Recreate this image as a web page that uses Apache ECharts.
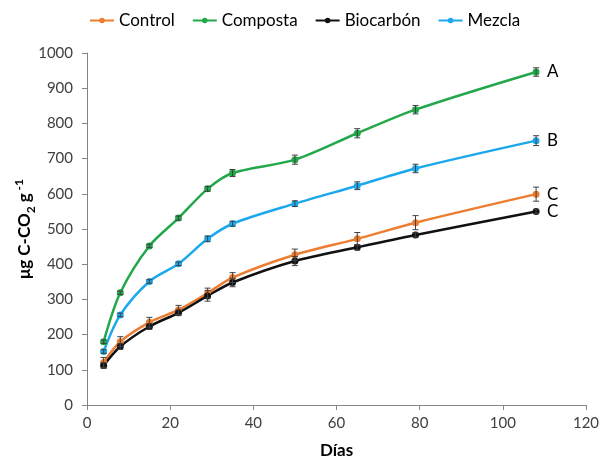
<!DOCTYPE html>
<html>
<head>
<meta charset="utf-8">
<script src="https://cdn.jsdelivr.net/npm/echarts@6/dist/echarts.min.js"></script>
<style>
  html, body { margin: 0; padding: 0; background: #fff; }
  #chart { width: 600px; height: 462px; }
</style>
</head>
<body>
<div id="chart"></div>
<script>
  // sampling days
  var dias = [4, 8, 15, 22, 29, 35, 50, 65, 79, 108];

  var control = [121, 180, 235, 270, 318, 362, 427, 472, 518, 599];
  var composta = [180, 319, 452, 531, 614, 659, 697, 772, 839, 946];
  var biocarbon = [112, 166, 223, 262, 310, 348, 409, 448, 483, 550];
  var mezcla = [152, 256, 351, 401, 472, 515, 572, 623, 672, 751];

  // standard errors (approx.)
  var errControl = [14, 14, 14, 13, 14, 14, 16, 18, 20, 20];
  var errComposta = [5, 5, 5, 6, 7, 10, 13, 13, 12, 12];
  var errBiocarbon = [8, 8, 8, 8, 15, 12, 13, 8, 6, 6];
  var errMezcla = [5, 5, 5, 5, 8, 7, 8, 11, 12, 14];

  var nombres = ["Control", "Composta", "Biocarbón", "Mezcla"];
  var letras = ["C", "A", "C", "B"];
  var colores = ["#ED7D31", "#22A84A", "#111111", "#1BA8EC"];

  var xTicks = {min: 0, max: 120, interval: 20};
  var yTicks = {min: 0, max: 1000, interval: 100};

  var valores = [control, composta, biocarbon, mezcla];
  var errores = [errControl, errComposta, errBiocarbon, errMezcla];

  var chart = echarts.init(document.getElementById("chart"));

  function pares(vals) {
    return dias.map(function (d, i) { return [d, vals[i]]; });
  }

  function barrasError(vals, errs) {
    return dias.map(function (d, i) { return [d, vals[i] - errs[i], vals[i] + errs[i]]; });
  }

  function renderError(params, api) {
    var x = api.value(0);
    var lo = api.coord([x, api.value(1)]);
    var hi = api.coord([x, api.value(2)]);
    var w = 3;
    var st = {stroke: "#404040", lineWidth: 1};
    return {
      type: "group",
      children: [
        {type: "line", shape: {x1: lo[0], y1: lo[1], x2: hi[0], y2: hi[1]}, style: st},
        {type: "line", shape: {x1: lo[0] - w, y1: lo[1], x2: lo[0] + w, y2: lo[1]}, style: st},
        {type: "line", shape: {x1: hi[0] - w, y1: hi[1], x2: hi[0] + w, y2: hi[1]}, style: st}
      ]
    };
  }

  var series = [];
  nombres.forEach(function (n, k) {
    series.push({
      name: n,
      type: "line",
      data: pares(valores[k]),
      smooth: 0.3,
      symbol: "circle",
      symbolSize: 7,
      color: colores[k],
      lineStyle: {width: 2.5, color: colores[k]},
      itemStyle: {color: colores[k]},
      endLabel: {
        show: true,
        formatter: letras[k],
        color: "#000",
        fontSize: 17,
        fontFamily: "Lato",
        distance: 11
      },
      z: 3
    });
  });
  nombres.forEach(function (n, k) {
    series.push({
      type: "custom",
      renderItem: renderError,
      data: barrasError(valores[k], errores[k]),
      encode: {x: 0, y: [1, 2]},
      silent: true,
      z: 4
    });
  });

  chart.setOption({
    animation: false,
    textStyle: {fontFamily: "Lato"},
    grid: {left: 87, right: 14, top: 53, bottom: 57, outerBoundsMode: "none"},
    legend: {
      data: nombres,
      left: 84,
      top: 7,
      itemWidth: 24,
      itemHeight: 7,
      itemGap: 17,
      textStyle: {fontSize: 17, color: "#000", fontFamily: "Lato"}
    },
    xAxis: {
      type: "value",
      min: xTicks.min,
      max: xTicks.max,
      interval: xTicks.interval,
      name: "Días",
      nameLocation: "middle",
      nameGap: 37,
      nameTextStyle: {fontSize: 17, fontWeight: "bold", color: "#000"},
      splitLine: {show: false},
      axisLine: {lineStyle: {color: "#868686"}},
      axisTick: {show: true, length: 5, lineStyle: {color: "#868686"}},
      axisLabel: {fontSize: 15, color: "#404040", margin: 11}
    },
    yAxis: {
      type: "value",
      min: yTicks.min,
      max: yTicks.max,
      interval: yTicks.interval,
      name: "{b|μg C-CO}{sub|2}{b| g}{sup| -1}",
      nameLocation: "middle",
      nameRotate: 90,
      nameGap: 50,
      nameMoveOverlap: false,
      nameTextStyle: {
        rich: {
          b: {fontSize: 17, fontWeight: "bold", color: "#000", lineHeight: 24, fontFamily: "Lato"},
          sub: {fontSize: 12, fontWeight: "bold", color: "#000", lineHeight: 24, verticalAlign: "bottom", fontFamily: "Lato"},
          sup: {fontSize: 12, fontWeight: "bold", color: "#000", lineHeight: 24, verticalAlign: "top", fontFamily: "Lato"}
        }
      },
      splitLine: {show: false},
      axisLine: {show: true, lineStyle: {color: "#868686"}},
      axisTick: {show: true, length: 5, lineStyle: {color: "#868686"}},
      axisLabel: {fontSize: 15, color: "#404040", margin: 14, formatter: function (v) { return String(v); }}
    },
    series: series
  });
</script>
</body>
</html>
